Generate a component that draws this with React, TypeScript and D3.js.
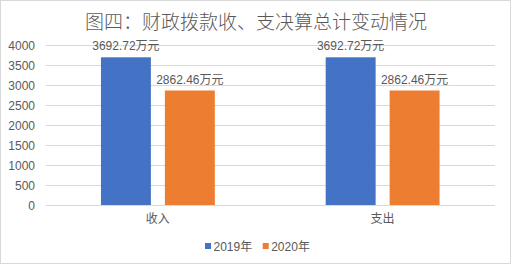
import React from "react";
import * as d3 from "d3";

const categories = ["收入", "支出"];
const seriesNames = ["2019年", "2020年"];
const values2019 = [3692.72, 3692.72];
const values2020 = [2862.46, 2862.46];
const yTicks = [0, 500, 1000, 1500, 2000, 2500, 3000, 3500, 4000];
const title = "图四：财政拨款收、支决算总计变动情况";
const colors = ["#4472C4", "#ED7D31"];

const W = 511;
const H = 265;
const font = "'Liberation Sans', 'Noto Sans CJK SC', sans-serif";
const titleFont = "'Noto Sans CJK SC', sans-serif";
const textColor = "#595959";

export default function App() {
  const left = 45.5;
  const right = 495;
  const top = 45;
  const bottom = 205;
  const y = d3.scaleLinear().domain([0, 4000]).range([bottom, top]);
  const x0 = d3
    .scaleBand<string>()
    .domain(categories)
    .range([left, right])
    .paddingInner(0.4933)
    .paddingOuter(0.2467);
  const x1 = d3
    .scaleBand<string>()
    .domain(seriesNames)
    .range([0, x0.bandwidth()])
    .paddingInner(0.21875)
    .paddingOuter(0);
  const series = [values2019, values2020];

  return (
    <svg
      width={W}
      height={H}
      style={{ position: "fixed", left: 0, top: 0, background: "#fff" }}
      fontFamily={font}
    >
      <rect x={0.5} y={0.5} width={W - 1} height={H - 2} fill="#fff" stroke="#d9d9d9" />
      <text
        x={256}
        y={28.5}
        textAnchor="middle"
        fontSize={19}
        fontWeight={300}
        fill={textColor}
        fontFamily={titleFont}
      >
        {title}
      </text>
      {yTicks.map((t) => (
        <g key={t}>
          <line
            x1={left}
            x2={right}
            y1={Math.round(y(t)) + 0.5}
            y2={Math.round(y(t)) + 0.5}
            stroke="#d9d9d9"
            strokeWidth={1}
          />
          <text
            x={35}
            y={y(t) + 4.5}
            textAnchor="end"
            fontSize={12}
            fill={textColor}
          >
            {t}
          </text>
        </g>
      ))}
      {categories.map((c, ci) => (
        <g key={c}>
          {series.map((vals, si) => {
            const bx = (x0(c) ?? 0) + (x1(seriesNames[si]) ?? 0);
            const bw = x1.bandwidth();
            return (
              <g key={si}>
                <rect
                  x={bx}
                  y={y(vals[ci])}
                  width={bw}
                  height={y(0) - y(vals[ci])}
                  fill={colors[si]}
                />
                <text
                  x={bx + bw / 2}
                  y={y(vals[ci]) - 7}
                  textAnchor="middle"
                  fontSize={12}
                  fill={textColor}
                >
                  {vals[ci].toFixed(2)}万元
                </text>
              </g>
            );
          })}
          <text
            x={(x0(c) ?? 0) + x0.bandwidth() / 2}
            y={223}
            textAnchor="middle"
            fontSize={12}
            fill={textColor}
          >
            {c}
          </text>
        </g>
      ))}
      {seriesNames.map((s, i) => {
        const lx = 205 + i * 57.7;
        return (
          <g key={s}>
            <rect x={lx} y={243} width={6} height={6} fill={colors[i]} />
            <text x={lx + 8.5} y={251} fontSize={12} fill={textColor}>
              {s}
            </text>
          </g>
        );
      })}
    </svg>
  );
}
